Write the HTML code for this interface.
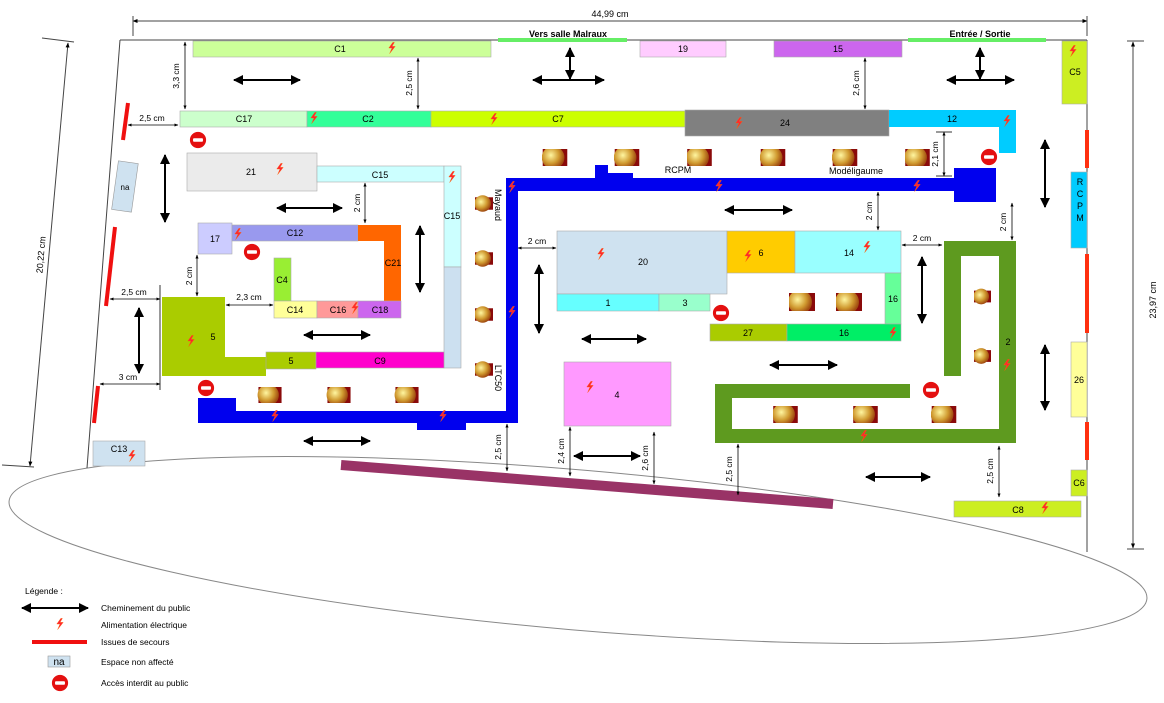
<!DOCTYPE html>
<html><head><meta charset="utf-8"><style>
html,body{margin:0;padding:0;background:#fff;}
svg{display:block;font-family:"Liberation Sans",sans-serif;}
</style></head><body>
<svg width="1164" height="703" viewBox="0 0 1164 703" xmlns="http://www.w3.org/2000/svg">
<defs>
<symbol id="bolt" viewBox="0 0 10 14"><path d="M6,0 L1,7 L5,7 L2,14 L9,5 L5,5 L8,0Z" fill="#f23" stroke="#f60" stroke-width="0.5"/></symbol>
<symbol id="ne" viewBox="0 0 20 20"><circle cx="10" cy="10" r="9" fill="#e41010"/><rect x="4.5" y="8" width="11" height="4" rx="1" fill="#fff"/></symbol>
<radialGradient id="cg" cx="0.4" cy="0.4" r="0.6"><stop offset="0" stop-color="#fff6a0"/><stop offset="0.6" stop-color="#d09a30"/><stop offset="1" stop-color="#a04a10"/></radialGradient>
<symbol id="ch" viewBox="0 0 26 18"><rect width="26" height="18" fill="#8a0a0a"/><ellipse cx="11" cy="9" rx="12" ry="12" fill="url(#cg)"/></symbol>
<marker id="a" viewBox="0 0 10 10" refX="9" refY="5" markerWidth="5" markerHeight="5" orient="auto-start-reverse"><path d="M0,0 L10,5 L0,10 Z" fill="#000"/></marker>
<marker id="s" viewBox="0 0 10 10" refX="9" refY="5" markerWidth="5" markerHeight="5" orient="auto-start-reverse"><path d="M0,1 L10,5 L0,9 Z" fill="#000"/></marker>
</defs>
<g font-size="10" fill="#000">

<ellipse cx="578" cy="550" rx="571" ry="80" transform="rotate(4.9 578 550)" fill="none" stroke="#888" stroke-width="1"/>

<line x1="133" y1="21" x2="1087" y2="21" stroke="#444" marker-end="url(#s)" marker-start="url(#s)"/>
<line x1="133" y1="16" x2="133" y2="36" stroke="#444"/>
<line x1="1087" y1="16" x2="1087" y2="36" stroke="#444"/>
<text x="610" y="17" text-anchor="middle" font-size="9">44,99 cm</text>
<line x1="120" y1="40" x2="1087" y2="40" stroke="#444"/>
<line x1="120" y1="40" x2="87" y2="468" stroke="#444"/>
<line x1="1087" y1="40" x2="1087" y2="552" stroke="#444"/>
<line x1="68" y1="43" x2="30" y2="466" stroke="#444" marker-start="url(#s)" marker-end="url(#s)"/>
<line x1="42" y1="38" x2="74" y2="42" stroke="#444"/>
<line x1="2" y1="465" x2="34" y2="467" stroke="#444"/>
<text transform="translate(44,255) rotate(-85)" text-anchor="middle" font-size="9">20,22 cm</text>
<line x1="1133" y1="42" x2="1133" y2="548" stroke="#444" marker-start="url(#s)" marker-end="url(#s)"/>
<line x1="1127" y1="41" x2="1144" y2="41" stroke="#444"/>
<line x1="1127" y1="549" x2="1144" y2="549" stroke="#444"/>
<text transform="translate(1156,300) rotate(-90)" text-anchor="middle" font-size="9">23,97 cm</text>

<rect x="498" y="38" width="129" height="4" fill="#66ee66"/>
<text x="568" y="37" text-anchor="middle" font-weight="bold" font-size="9">Vers salle Malraux</text>
<rect x="908" y="38" width="138" height="4" fill="#66ee66"/>
<text x="980" y="37" text-anchor="middle" font-weight="bold" font-size="9">Entrée / Sortie</text>

<g stroke="#f01010" stroke-width="4">
<line x1="128" y1="103" x2="123" y2="140"/>
<line x1="115" y1="227" x2="106" y2="306"/>
<line x1="98" y1="386" x2="94" y2="423"/>
</g>
<g stroke="#ff3010" stroke-width="4">
<line x1="1087" y1="130" x2="1087" y2="168"/>
<line x1="1087" y1="254" x2="1087" y2="333"/>
<line x1="1087" y1="422" x2="1087" y2="460"/>
</g>

<g stroke="#aaa" stroke-width="0.6">
<rect x="193" y="41" width="298" height="16" fill="#ccff99"/>
<rect x="640" y="41" width="86" height="16" fill="#ffccff"/>
<rect x="774" y="41" width="128" height="16" fill="#cc66ee"/>
<rect x="1062" y="41" width="25" height="63" fill="#ccee22"/>
<rect x="180" y="111" width="127" height="16" fill="#ccffcc"/>
<rect x="307" y="111" width="124" height="16" fill="#33ff99"/>
<rect x="431" y="111" width="254" height="16" fill="#ccff00"/>
<rect x="685" y="110" width="204" height="26" fill="#808080"/>
<path d="M889,110 H1016 V153 H999 V127 H889 Z" fill="#00ccff" stroke="none"/>
<rect x="187" y="153" width="130" height="38" fill="#ebebeb"/>
<rect x="317" y="166" width="127" height="16" fill="#ccffff"/>
<rect x="444" y="166" width="17" height="101" fill="#ccffff"/>
<rect x="444" y="267" width="17" height="101" fill="#cce0f0"/>
<rect x="198" y="223" width="34" height="31" fill="#ccccff"/>
<rect x="232" y="225" width="126" height="16" fill="#9999ee"/>
<path d="M358,225 H401 V301 H384 V241 H358 Z" fill="#ff6600" stroke="none"/>
<rect x="274" y="258" width="17" height="43" fill="#99ee33"/>
<rect x="274" y="301" width="43" height="17" fill="#ffff99"/>
<rect x="317" y="301" width="41" height="17" fill="#ff9999"/>
<rect x="358" y="301" width="43" height="17" fill="#cc66ee"/>
<path d="M162,297 H225 V357 H266 V376 H162 Z" fill="#aacc00" stroke="none"/>
<rect x="266" y="352" width="50" height="17" fill="#aacc00"/>
<rect x="316" y="352" width="128" height="16" fill="#ff00cc"/>
<rect x="557" y="231" width="170" height="63" fill="#cfe2f0"/>
<rect x="557" y="294" width="102" height="17" fill="#66ffff"/>
<rect x="659" y="294" width="51" height="17" fill="#99ffcc"/>
<rect x="727" y="231" width="68" height="42" fill="#ffcc00"/>
<rect x="795" y="231" width="106" height="42" fill="#99ffff"/>
<rect x="885" y="273" width="16" height="51" fill="#66ff99"/>
<rect x="710" y="324" width="77" height="17" fill="#aacc00"/>
<rect x="787" y="324" width="114" height="17" fill="#00ee66"/>
<rect x="564" y="362" width="107" height="64" fill="#ff99ff"/>
<rect x="1071" y="172" width="16" height="76" fill="#00ccff"/>
<rect x="1071" y="342" width="16" height="75" fill="#ffff99"/>
<rect x="1071" y="470" width="16" height="26" fill="#ccee22"/>
<rect x="954" y="501" width="127" height="16" fill="#ccee22"/>
<rect x="93" y="441" width="52" height="25" fill="#cfe2f0"/>
</g>
<rect x="115" y="162" width="20" height="49" fill="#cfe2f0" stroke="#999" stroke-width="0.6" transform="rotate(8 125 186)"/>

<g fill="#0000ee">
<rect x="198" y="411" width="320" height="12"/>
<rect x="198" y="398" width="38" height="25"/>
<rect x="417" y="423" width="49" height="7"/>
<rect x="506" y="179" width="12" height="244"/>
<rect x="506" y="178" width="448" height="13"/>
<rect x="595" y="165" width="13" height="14"/>
<rect x="608" y="173" width="25" height="6"/>
<rect x="954" y="168" width="42" height="34"/>
</g>

<g fill="#5e9a1f">
<rect x="999" y="241" width="17" height="202"/>
<rect x="944" y="241" width="72" height="15"/>
<rect x="944" y="241" width="17" height="135"/>
<rect x="715" y="429" width="301" height="14"/>
<rect x="715" y="384" width="17" height="59"/>
<rect x="715" y="384" width="195" height="14"/>
</g>

<line x1="341" y1="465" x2="833" y2="504" stroke="#993366" stroke-width="10"/>

<g>
<use href="#ch" x="475" y="191" width="18" height="25"/>
<use href="#ch" x="475" y="247" width="18" height="23"/>
<use href="#ch" x="475" y="302" width="18" height="25"/>
<use href="#ch" x="475" y="357" width="18" height="25"/>
<use href="#ch" x="257" y="387" width="26" height="16"/>
<use href="#ch" x="326" y="387" width="26" height="16"/>
<use href="#ch" x="394" y="387" width="26" height="16"/>
<use href="#ch" x="542" y="149" width="26" height="17"/>
<use href="#ch" x="614" y="149" width="26" height="17"/>
<use href="#ch" x="687" y="149" width="25" height="17"/>
<use href="#ch" x="760" y="149" width="26" height="17"/>
<use href="#ch" x="832" y="149" width="26" height="17"/>
<use href="#ch" x="905" y="149" width="25" height="17"/>
<use href="#ch" x="789" y="293" width="26" height="18"/>
<use href="#ch" x="836" y="293" width="26" height="18"/>
<use href="#ch" x="974" y="285" width="17" height="23"/>
<use href="#ch" x="974" y="344" width="17" height="24"/>
<use href="#ch" x="773" y="406" width="25" height="17"/>
<use href="#ch" x="853" y="406" width="25" height="17"/>
<use href="#ch" x="931" y="406" width="26" height="17"/>
</g>

<use href="#ne" x="189" y="131" width="18" height="18"/>
<use href="#ne" x="243" y="243" width="18" height="18"/>
<use href="#ne" x="197" y="379" width="18" height="18"/>
<use href="#ne" x="712" y="304" width="18" height="18"/>
<use href="#ne" x="980" y="148" width="18" height="18"/>
<use href="#ne" x="922" y="381" width="18" height="18"/>

<g>
<use href="#bolt" x="388" y="42" width="8" height="12"/>
<use href="#bolt" x="310" y="112" width="8" height="12"/>
<use href="#bolt" x="490" y="113" width="8" height="12"/>
<use href="#bolt" x="735" y="117" width="8" height="12"/>
<use href="#bolt" x="1003" y="115" width="8" height="12"/>
<use href="#bolt" x="1069" y="45" width="8" height="12"/>
<use href="#bolt" x="276" y="163" width="8" height="12"/>
<use href="#bolt" x="448" y="171" width="8" height="12"/>
<use href="#bolt" x="508" y="181" width="8" height="12"/>
<use href="#bolt" x="234" y="228" width="8" height="12"/>
<use href="#bolt" x="351" y="302" width="8" height="12"/>
<use href="#bolt" x="187" y="335" width="8" height="12"/>
<use href="#bolt" x="508" y="306" width="8" height="12"/>
<use href="#bolt" x="271" y="410" width="8" height="12"/>
<use href="#bolt" x="439" y="410" width="8" height="12"/>
<use href="#bolt" x="715" y="180" width="8" height="12"/>
<use href="#bolt" x="913" y="180" width="8" height="12"/>
<use href="#bolt" x="597" y="248" width="8" height="12"/>
<use href="#bolt" x="744" y="250" width="8" height="12"/>
<use href="#bolt" x="863" y="241" width="8" height="12"/>
<use href="#bolt" x="889" y="327" width="8" height="12"/>
<use href="#bolt" x="586" y="381" width="8" height="12"/>
<use href="#bolt" x="1003" y="359" width="8" height="12"/>
<use href="#bolt" x="860" y="430" width="8" height="12"/>
<use href="#bolt" x="1041" y="502" width="8" height="12"/>
<use href="#bolt" x="128" y="450" width="8" height="12"/>
</g>

<g text-anchor="middle" font-size="9">
<text x="340" y="52">C1</text><text x="683" y="52">19</text><text x="838" y="52">15</text>
<text x="1075" y="75">C5</text>
<text x="244" y="122">C17</text><text x="368" y="122">C2</text><text x="558" y="122">C7</text>
<text x="785" y="126">24</text><text x="952" y="122">12</text>
<text x="251" y="175">21</text><text x="380" y="178">C15</text><text x="452" y="219">C15</text>
<text x="215" y="242">17</text><text x="295" y="236">C12</text><text x="393" y="266">C21</text>
<text x="282" y="283">C4</text><text x="295" y="313">C14</text><text x="338" y="313">C16</text><text x="380" y="313">C18</text>
<text x="213" y="340">5</text><text x="291" y="364">5</text><text x="380" y="364">C9</text>
<text x="643" y="265">20</text><text x="761" y="256">6</text><text x="849" y="256">14</text>
<text x="608" y="306">1</text><text x="685" y="306">3</text>
<text x="893" y="302">16</text><text x="748" y="336">27</text><text x="844" y="336">16</text>
<text x="617" y="398">4</text><text x="1008" y="345">2</text>
<text x="1079" y="383">26</text><text x="1079" y="486">C6</text><text x="1018" y="513">C8</text>
<text x="119" y="452">C13</text>
<text x="125" y="190" font-size="8">na</text>
<text x="678" y="173">RCPM</text><text x="856" y="174">Modéligaume</text>
<text x="1080" y="185">R</text><text x="1080" y="197">C</text><text x="1080" y="209">P</text><text x="1080" y="221">M</text>
<text transform="translate(495,205) rotate(90)">Mayaud</text>
<text transform="translate(495,378) rotate(90)">LTC50</text>
</g>

<g stroke="#000" stroke-width="0.8" fill="none">
<line x1="185" y1="42" x2="185" y2="109" marker-start="url(#s)" marker-end="url(#s)"/>
<line x1="418" y1="58" x2="418" y2="109" marker-start="url(#s)" marker-end="url(#s)"/>
<line x1="865" y1="58" x2="865" y2="109" marker-start="url(#s)" marker-end="url(#s)"/>
<line x1="128" y1="125" x2="178" y2="125" marker-start="url(#s)" marker-end="url(#s)"/>
<line x1="365" y1="183" x2="365" y2="223" marker-start="url(#s)" marker-end="url(#s)"/>
<line x1="197" y1="255" x2="197" y2="296" marker-start="url(#s)" marker-end="url(#s)"/>
<line x1="226" y1="305" x2="273" y2="305" marker-start="url(#s)" marker-end="url(#s)"/>
<line x1="110" y1="299" x2="160" y2="299" marker-start="url(#s)" marker-end="url(#s)"/>
<line x1="100" y1="384" x2="160" y2="384" marker-start="url(#s)" marker-end="url(#s)"/>
<line x1="944" y1="132" x2="944" y2="176" marker-start="url(#s)" marker-end="url(#s)"/>
<line x1="878" y1="192" x2="878" y2="230" marker-start="url(#s)" marker-end="url(#s)"/>
<line x1="1012" y1="203" x2="1012" y2="240" marker-start="url(#s)" marker-end="url(#s)"/>
<line x1="518" y1="248" x2="556" y2="248" marker-start="url(#s)" marker-end="url(#s)"/>
<line x1="902" y1="245" x2="942" y2="245" marker-start="url(#s)" marker-end="url(#s)"/>
<line x1="507" y1="424" x2="507" y2="471" marker-start="url(#s)" marker-end="url(#s)"/>
<line x1="570" y1="427" x2="570" y2="476" marker-start="url(#s)" marker-end="url(#s)"/>
<line x1="654" y1="432" x2="654" y2="484" marker-start="url(#s)" marker-end="url(#s)"/>
<line x1="738" y1="444" x2="738" y2="495" marker-start="url(#s)" marker-end="url(#s)"/>
<line x1="999" y1="446" x2="999" y2="497" marker-start="url(#s)" marker-end="url(#s)"/>
<line x1="160" y1="285" x2="160" y2="390"/>
<line x1="936" y1="132" x2="952" y2="132"/><line x1="936" y1="176" x2="952" y2="176"/>
</g>
<g font-size="8.5" text-anchor="middle">
<text transform="translate(179,76) rotate(-90)">3,3 cm</text>
<text transform="translate(412,83) rotate(-90)">2,5 cm</text>
<text transform="translate(859,83) rotate(-90)">2,6 cm</text>
<text x="152" y="121">2,5 cm</text>
<text transform="translate(360,203) rotate(-90)">2 cm</text>
<text transform="translate(192,276) rotate(-90)">2 cm</text>
<text x="249" y="300">2,3 cm</text>
<text x="134" y="295">2,5 cm</text>
<text x="128" y="380">3 cm</text>
<text transform="translate(938,154) rotate(-90)">2,1 cm</text>
<text transform="translate(872,211) rotate(-90)">2 cm</text>
<text transform="translate(1006,222) rotate(-90)">2 cm</text>
<text x="537" y="244">2 cm</text>
<text x="922" y="241">2 cm</text>
<text transform="translate(501,447) rotate(-90)">2,5 cm</text>
<text transform="translate(564,451) rotate(-90)">2,4 cm</text>
<text transform="translate(648,458) rotate(-90)">2,6 cm</text>
<text transform="translate(732,469) rotate(-90)">2,5 cm</text>
<text transform="translate(993,471) rotate(-90)">2,5 cm</text>
</g>

<g stroke="#000" stroke-width="2" marker-start="url(#a)" marker-end="url(#a)">
<line x1="234" y1="80" x2="300" y2="80"/>
<line x1="533" y1="80" x2="604" y2="80"/>
<line x1="570" y1="48" x2="570" y2="79"/>
<line x1="947" y1="80" x2="1014" y2="80"/>
<line x1="980" y1="48" x2="980" y2="79"/>
<line x1="165" y1="155" x2="165" y2="222"/>
<line x1="277" y1="208" x2="342" y2="208"/>
<line x1="420" y1="226" x2="420" y2="292"/>
<line x1="304" y1="335" x2="370" y2="335"/>
<line x1="139" y1="308" x2="139" y2="373"/>
<line x1="304" y1="441" x2="370" y2="441"/>
<line x1="539" y1="265" x2="539" y2="333"/>
<line x1="725" y1="210" x2="792" y2="210"/>
<line x1="1045" y1="140" x2="1045" y2="207"/>
<line x1="922" y1="257" x2="922" y2="323"/>
<line x1="582" y1="339" x2="646" y2="339"/>
<line x1="770" y1="365" x2="837" y2="365"/>
<line x1="1045" y1="345" x2="1045" y2="410"/>
<line x1="574" y1="456" x2="640" y2="456"/>
<line x1="866" y1="477" x2="930" y2="477"/>
<line x1="22" y1="608" x2="88" y2="608"/>
</g>

<g font-size="8.5">
<text x="25" y="594">Légende :</text>
<text x="101" y="611">Cheminement du public</text>
<use href="#bolt" x="56" y="618" width="8" height="12"/>
<text x="101" y="628">Alimentation électrique</text>
<rect x="32" y="640" width="55" height="4" fill="#f01010"/>
<text x="101" y="645">Issues de secours</text>
<rect x="48" y="656" width="22" height="11" fill="#cfe2f0" stroke="#999" stroke-width="0.6"/>
<text x="59" y="665" text-anchor="middle" font-size="10">na</text>
<text x="101" y="665">Espace non affecté</text>
<use href="#ne" x="51" y="674" width="18" height="18"/>
<text x="101" y="686">Accès interdit au public</text>
</g>
</g>
</svg>
</body></html>
